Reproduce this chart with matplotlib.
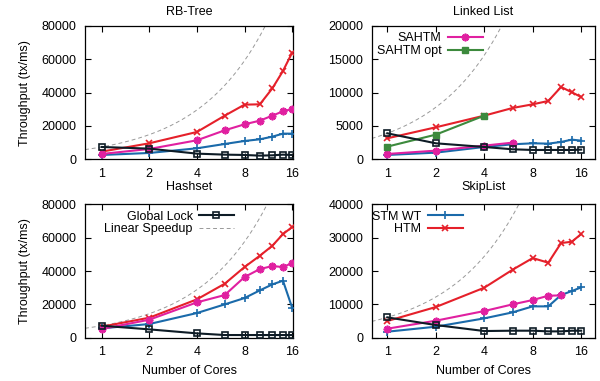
import numpy as np
import matplotlib
matplotlib.use("Agg")
import matplotlib.pyplot as plt

plt.rcParams['font.family'] = ['Liberation Sans', 'DejaVu Sans']
plt.rcParams['font.size'] = 9

cores = [1, 2, 4, 6, 8, 10, 12, 14, 16]

# RB-Tree
rb_lock = [7400, 6400, 3400, 2800, 2600, 2200, 2400, 2800, 2600]
rb_stm = [2600, 3800, 6600, 9200, 11000, 12000, 13600, 15400, 15400]
rb_htm = [4600, 9600, 16400, 26200, 32800, 33000, 42600, 53000, 64000]
rb_sahtm = [3200, 6200, 11400, 17400, 21000, 23200, 26200, 28800, 30200]

# Linked List
ll_lock = [3900, 2400, 1850, 1500, 1400, 1400, 1400, 1400, 1450]
ll_stm = [650, 1000, 1850, 2250, 2400, 2350, 2600, 2950, 2800]
ll_htm = [3150, 4800, 6550, 7700, 8250, 8750, 10850, 10050, 9350]
ll_sahtm = [800, 1300, 2050, 2500]
ll_sahtm_opt = [1900, 3700, 6550]

# Hashset
hs_lock = [7200, 5000, 2600, 1600, 1600, 1600, 1600, 1600, 1600]
hs_stm = [5600, 8200, 14800, 20000, 23800, 28400, 32000, 34200, 18000]
hs_htm = [6600, 12000, 23000, 32400, 42400, 49200, 55200, 62200, 66400]
hs_sahtm = [5200, 10800, 21200, 25600, 36400, 41200, 43000, 42400, 44800]

# SkipList
sl_lock = [6100, 3800, 2000, 2100, 2100, 1900, 1900, 2100, 2100]
sl_stm = [1800, 3300, 5800, 7600, 9400, 9400, 12800, 14000, 15100]
sl_htm = [5000, 9200, 15000, 20400, 23900, 22500, 28400, 28800, 31100]
sl_sahtm = [2700, 5100, 8000, 10000, 11300, 12600, 12700]

c_lock = '#0e1c26'
c_stm = '#1a6aaa'
c_htm = '#e5202a'
c_sahtm = '#e020a0'
c_opt = '#3d8a3d'

fig = plt.figure(figsize=(6, 3.81), dpi=100)
ax_tl = fig.add_axes([85/600, 1-159.3/381, 208/600, 133.3/381])
ax_tr = fig.add_axes([371.7/600, 1-159.3/381, 223.3/600, 133.3/381])
ax_bl = fig.add_axes([85/600, 1-337.7/381, 208/600, 133.3/381])
ax_br = fig.add_axes([371.7/600, 1-337.7/381, 223.3/600, 133.3/381])


def draw(ax, lock, stm, htm, sahtm, ymax, ystep, xlim, opt=None):
    xs = np.geomspace(xlim[0], xlim[1], 200)
    ax.plot(cores, lock, color=c_lock, lw=1.5, marker='s', ms=5, mfc='none',
            mew=1.2, label='Global Lock', zorder=5)
    ax.plot(xs, lock[0]*xs, color='#999999', lw=0.7, ls=(0, (4, 3)),
            label='Linear Speedup', zorder=1)
    ax.plot(cores[:len(stm)], stm, color=c_stm, lw=1.5, marker='+', ms=6,
            mew=1.2, label='STM WT', zorder=3)
    ax.plot(cores[:len(htm)], htm, color=c_htm, lw=1.5, marker='x', ms=5,
            mew=1.2, label='HTM', zorder=3)
    ax.plot(cores[:len(sahtm)], sahtm, color=c_sahtm, lw=1.5, marker=(8, 2, 0),
            ms=5.5, mew=1.3, label='SAHTM', zorder=3)
    if opt is not None:
        ax.plot(cores[:len(opt)], opt, color=c_opt, lw=1.5, marker='s', ms=5,
                label='SAHTM opt', zorder=3)
    ax.set_xscale('log', base=2)
    ax.set_xlim(*xlim)
    ax.set_ylim(0, ymax)
    ax.set_xticks([1, 2, 4, 8, 16])
    ax.set_xticklabels(['1', '2', '4', '8', '16'])
    ax.minorticks_off()
    ax.set_yticks(np.arange(0, ymax + 1, ystep))
    ax.tick_params(direction='in', top=True, right=True, length=4, width=0.8,
                   labelsize=9, pad=6)
    for s in ax.spines.values():
        s.set_linewidth(0.9)


draw(ax_tl, rb_lock, rb_stm, rb_htm, rb_sahtm, 80000, 20000, (0.785, 16.2))
draw(ax_tr, ll_lock, ll_stm, ll_htm, ll_sahtm, 20000, 5000, (0.8, 19.5), opt=ll_sahtm_opt)
draw(ax_bl, hs_lock, hs_stm, hs_htm, hs_sahtm, 80000, 20000, (0.785, 16.2))
draw(ax_br, sl_lock, sl_stm, sl_htm, sl_sahtm, 40000, 10000, (0.8, 19.5))

ax_tl.set_title('RB-Tree', fontsize=9, pad=8)
ax_tr.set_title('Linked List', fontsize=9, pad=8)
ax_tl.set_xlabel('Hashset', fontsize=9, labelpad=1)
ax_tr.set_xlabel('SkipList', fontsize=9, labelpad=1)
ax_bl.set_xlabel('Number of Cores', fontsize=9, labelpad=5)
ax_br.set_xlabel('Number of Cores', fontsize=9, labelpad=5)
ax_tl.set_ylabel('Throughput (tx/ms)', fontsize=9, labelpad=8)
ax_bl.set_ylabel('Throughput (tx/ms)', fontsize=9, labelpad=8)


def legend(ax, labels, anchor):
    h, l = ax.get_legend_handles_labels()
    sel = [h[l.index(t)] for t in labels]
    ax.legend(sel, labels, loc='upper right', bbox_to_anchor=anchor,
              frameon=False, markerfirst=False, fontsize=9, handlelength=2.8,
              handletextpad=0.5, labelspacing=0.05, borderaxespad=0)


legend(ax_tr, ['SAHTM', 'SAHTM opt'], (0.52, 0.99))
legend(ax_bl, ['Global Lock', 'Linear Speedup'], (0.74, 0.99))
legend(ax_br, ['STM WT', 'HTM'], (0.43, 0.99))

fig.savefig('out.png', dpi=100)
